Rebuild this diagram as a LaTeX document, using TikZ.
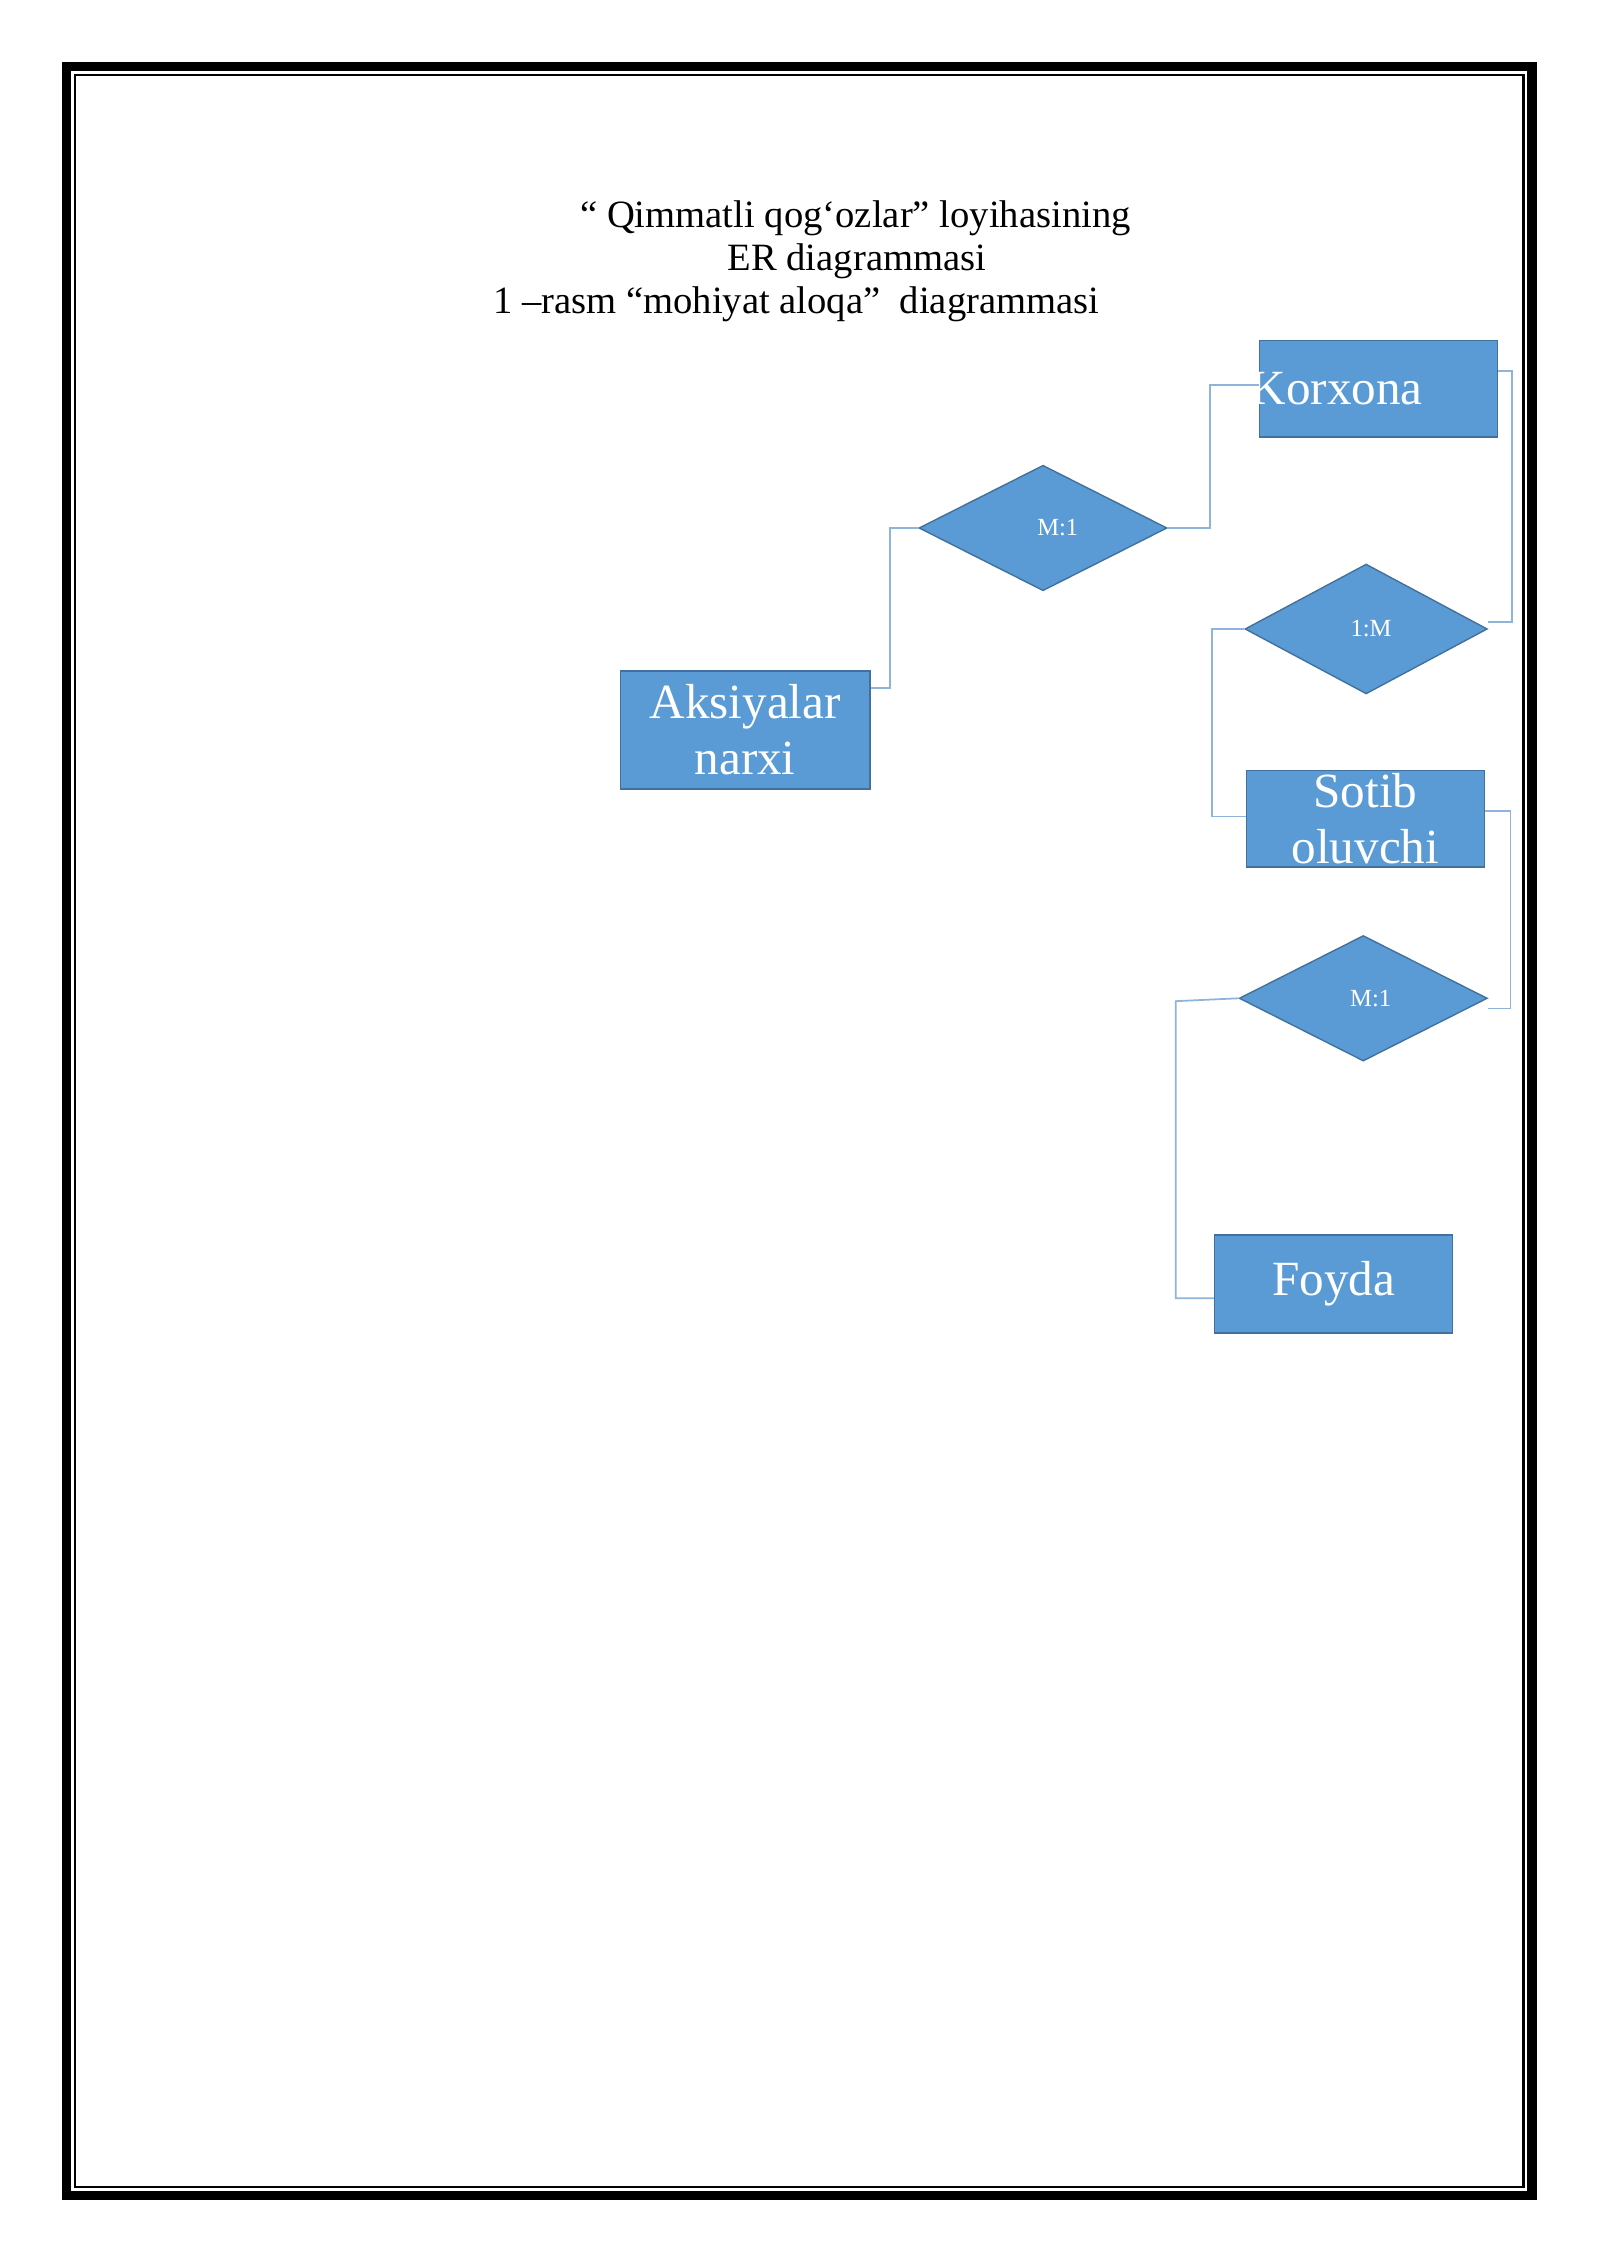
\documentclass[tikz,border=0pt]{standalone}
\usepackage{fontspec}
\setmainfont{Liberation Serif}
\usetikzlibrary{shapes.geometric}
\definecolor{entfill}{HTML}{5B9BD5}
\definecolor{entdraw}{HTML}{41719C}
\definecolor{linkc}{HTML}{8FB4DC}
\tikzset{entity/.style={rectangle,draw=entdraw,fill=entfill,text=white,
   font=\fontsize{14}{16}\selectfont,align=center,inner sep=0pt},
 rel/.style={diamond,draw=entdraw,fill=entfill,text=white,
   font=\fontsize{7}{8}\selectfont,inner sep=0pt},
 link/.style={draw=linkc,line width=0.5pt},
 }
\begin{document}
\begin{tikzpicture}[x=0.01443cm,y=-0.01443cm]
        \useasboundingbox (0,0) rectangle (1109,1568);
        \draw[line width=2.6pt] (46,46) rectangle (1062,1522);
        \draw[line width=0.8pt] (52,52) rectangle (1056,1516);

        \node[font=\fontsize{11}{13}\selectfont] (t1) at (593,151) {“ Qimmatli qog`ozlar” loyihasining};
        \node[font=\fontsize{11}{13}\selectfont] (t2) at (594,181) {ER diagrammasi};
        \node[font=\fontsize{11}{13}\selectfont] (t3) at (552,211) {1 –rasm “mohiyat aloqa”\ \ diagrammasi};

        \node[entity,minimum width=165*0.01443cm,minimum height=67*0.01443cm] (korxona) at (955.5,269.5) {\hspace*{-1.7em}Korxona};
        \node[entity,minimum width=173*0.01443cm,minimum height=82*0.01443cm] (aksiya) at (516.5,506) {Aksiyalar\\narxi};
        \node[entity,minimum width=165*0.01443cm,minimum height=67*0.01443cm] (sotib) at (946.5,567.5) {Sotib\\oluvchi};
        \node[entity,minimum width=165*0.01443cm,minimum height=68*0.01443cm] (foyda) at (924.5,890) {Foyda};

        \node[rel,minimum width=172*0.01443cm,minimum height=87*0.01443cm] (r1) at (723,366) {\hspace*{1.2em}M:1};
        \node[rel,minimum width=168*0.01443cm,minimum height=90*0.01443cm] (r2) at (947,436) {\hspace*{0.4em}1:M};
        \node[rel,minimum width=172*0.01443cm,minimum height=87*0.01443cm] (r3) at (945,692) {\hspace*{0.6em}M:1};

        \draw[link] (aksiya.east |- 0,477) -- (617,477) |- (r1.west);
        \draw[link] (r1.east) -- (839,366) |- (korxona.west |- 0,267);
        \draw[link] (korxona.east |- 0,257) -- (1048,257) |- (r2.east |- 0,431);
        \draw[link] (r2.west) -- (840,436) |- (sotib.west |- 0,566);
        \draw[link] (sotib.east |- 0,562) -- (1047,562) |- (r3.east |- 0,699);
        \draw[link] (r3.west) -- (815,694) |- (foyda.west |- 0,900);
\end{tikzpicture}
\end{document}
